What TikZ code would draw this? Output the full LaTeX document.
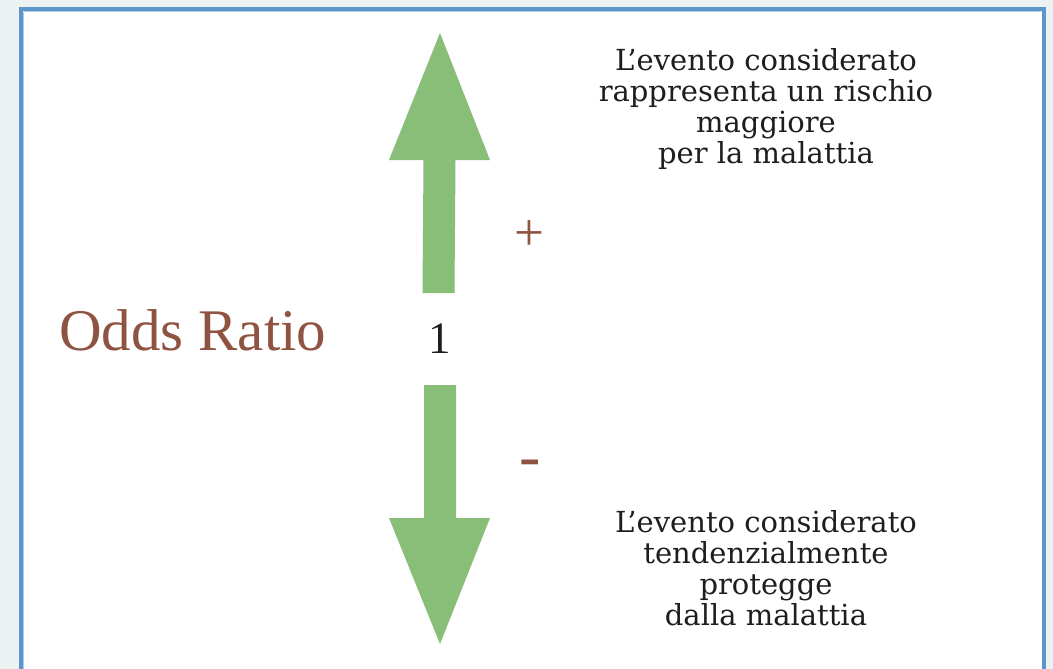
\documentclass[tikz,border=0pt]{standalone}
\usepackage{fontspec}
\setmainfont{DejaVu Serif}
\newfontfamily\titlefont{Liberation Serif}
\definecolor{bgout}{HTML}{ECF1F1}
\definecolor{frameblue}{HTML}{5B97CB}
\definecolor{framelight}{HTML}{AFCDE8}
\definecolor{arrowgreen}{HTML}{88BE77}
\definecolor{brownred}{HTML}{8F5441}
\definecolor{textdark}{HTML}{1E1E1E}
\tikzset{
  arrowshape/.style={fill=arrowgreen, draw=none},
  desc/.style={font=\fontsize{29}{31}\selectfont, text=textdark, align=center, inner sep=0pt, anchor=base},
  signlabel/.style={text=brownred, inner sep=0pt},
}
\begin{document}
\begin{tikzpicture}[x=1pt,y=-1pt]
\useasboundingbox (0,0) rectangle (1053,669);
\fill[bgout] (0,0) rectangle (1053,669);
\fill[white] (21,9) rectangle (1043.5,690);
\draw[framelight, line width=1.2pt] (23.6,11.6) -- (1040.9,11.6);
\draw[framelight, line width=1.2pt] (23.6,11.6) -- (23.6,690);
\draw[frameblue, line width=4pt] (21,690) -- (21,9) -- (1043.5,9) -- (1043.5,690);
% up arrow
\fill[arrowshape] (440,33) -- (490,160) -- (455.5,160) -- (454.5,293) -- (422.5,293) -- (423.5,160) -- (389,160) -- cycle;
% down arrow
\fill[arrowshape] (424,385) -- (456,385) -- (456,518) -- (490,518) -- (440,644) -- (389,518) -- (424,518) -- cycle;
\node[font=\titlefont\fontsize{59}{60}\selectfont, text=brownred, anchor=base west, inner sep=0pt] (odds) at (59,350) {Odds Ratio};
\node[font=\titlefont\fontsize{45}{50}\selectfont, text=textdark, anchor=base, inner sep=0pt] (one) at (440,353) {1};
\node[signlabel, font=\titlefont\fontsize{53}{50}\selectfont] (plus) at (529,236) {+};
\node[signlabel, font=\titlefont\fontsize{64}{50}\selectfont] (minus) at (530,469) {-};
\node[desc] (upper) at (766,163) {L’evento considerato\\rappresenta un rischio\\maggiore\\per la malattia};
\node[desc] (lower) at (766,625) {L’evento considerato\\tendenzialmente\\protegge\\dalla malattia};
\end{tikzpicture}
\end{document}
